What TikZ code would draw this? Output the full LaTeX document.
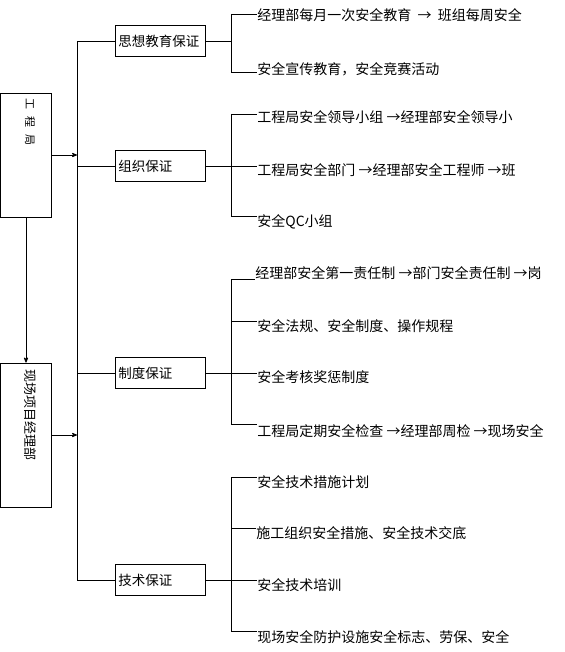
\documentclass[tikz,border=0pt]{standalone}
\usepackage{fontspec}
\newfontfamily\cjk{Noto Sans CJK SC}
\usetikzlibrary{arrows}

\tikzset{
  unitbox/.style={draw, minimum width=51pt, inner sep=0pt},
  guarantee/.style={draw, anchor=west, minimum width=90pt, minimum height=31pt,
    text width=84pt, inner xsep=3pt, align=left, font=\cjk\fontsize{13.5}{14}\selectfont},
  item/.style={anchor=west, inner sep=0pt, font=\cjk\fontsize{14}{14}\selectfont},
}

\begin{document}
\begin{tikzpicture}[x=1pt,y=-1pt,line width=0.8pt,>=stealth',shorten >=0pt]
  \useasboundingbox (0,0) rectangle (564,652);

  % left: units
  \node[unitbox, minimum height=124pt] (gcj) at (26,155) {};
  \node[rotate=-90, font=\cjk\fontsize{11}{11}\selectfont] (gcjtxt) at (30,122)
       {工\hspace{7pt}程\hspace{7pt}局};
  \node[unitbox, minimum height=144pt] (xmb) at (26,435) {};
  \node[rotate=-90, font=\cjk\fontsize{13}{13}\selectfont] (xmbtxt) at (30,415)
       {现场项目经理部};
  \coordinate (tk) at (77,0);

  % guarantees
  \node[guarantee] (sx) at (115,41)  {思想教育保证};
  \node[guarantee] (zz) at (115,166) {组织保证};
  \node[guarantee] (zd) at (115,373) {制度保证};
  \node[guarantee] (js) at (115,580) {技术保证};

  % items
  \node[item] (sx1) at (257,15)  {经理部每月一次安全教育 \ → \ 班组每周安全};
  \node[item] (sx2) at (257,69)  {安全宣传教育，安全竞赛活动};
  \node[item] (zz1) at (257,117) {工程局安全领导小组 →经理部安全领导小};
  \node[item] (zz2) at (257,170) {工程局安全部门 →经理部安全工程师 →班};
  \node[item] (zz3) at (257,222) {安全QC小组};
  \node[item] (zd1) at (255,273) {经理部安全第一责任制 →部门安全责任制 →岗};
  \node[item] (zd2) at (257,326) {安全法规、安全制度、操作规程};
  \node[item] (zd3) at (257,377) {安全考核奖惩制度};
  \node[item] (zd4) at (257,431) {工程局定期安全检查 →经理部周检 →现场安全};
  \node[item] (js1) at (257,482) {安全技术措施计划};
  \node[item] (js2) at (256,533) {施工组织安全措施、安全技术交底};
  \node[item] (js3) at (257,585) {安全技术培训};
  \node[item] (js4) at (257,637) {现场安全防护设施安全标志、劳保、安全};

  % connectors
  \draw[->] (gcj.south) -- (xmb.north);
  \draw[->] (gcj.east) -- (gcj.east -| tk);
  \draw[->] (xmb.east) -- (xmb.east -| tk);
  \draw (sx.west) -| (js.west -| tk) -- (js.west);
  \draw (zz.west) -- (zz.west -| tk);
  \draw (zd.west) -- (zd.west -| tk);

  \coordinate (br) at (231,0);
  \draw (sx.east) -- (sx.east -| br);
  \draw (br |- 0,14) coordinate (a1) -- (br |- 0,72) coordinate (a2);
  \draw (a1) -- (a1 -| sx1.west);
  \draw (a2) -- (a2 -| sx2.west);

  \draw (zz.east) -- (zz.east -| br);
  \draw (br |- 0,114) coordinate (b1) -- (br |- 0,216) coordinate (b3);
  \draw (b1) -- (b1 -| zz1.west);
  \draw (zz.east -| br) -- (zz.east -| zz2.west);
  \draw (b3) -- (b3 -| zz3.west);

  \draw (zd.east) -- (zd.east -| br);
  \draw (br |- 0,279) coordinate (c1) -- (br |- 0,424) coordinate (c4);
  \draw (c1) -- (c1 -| zd1.west);
  \draw (br |- 0,321) coordinate (c2) -- (c2 -| zd2.west);
  \draw (zd.east -| br) -- (zd.east -| zd3.west);
  \draw (c4) -- (c4 -| zd4.west);

  \draw (js.east) -- (js.east -| br);
  \draw (br |- 0,477) coordinate (d1) -- (br |- 0,631) coordinate (d4);
  \draw (d1) -- (d1 -| js1.west);
  \draw (br |- 0,528) coordinate (d2) -- (d2 -| js2.west);
  \draw (js.east -| br) -- (js.east -| js3.west);
  \draw (d4) -- (d4 -| js4.west);
\end{tikzpicture}
\end{document}
